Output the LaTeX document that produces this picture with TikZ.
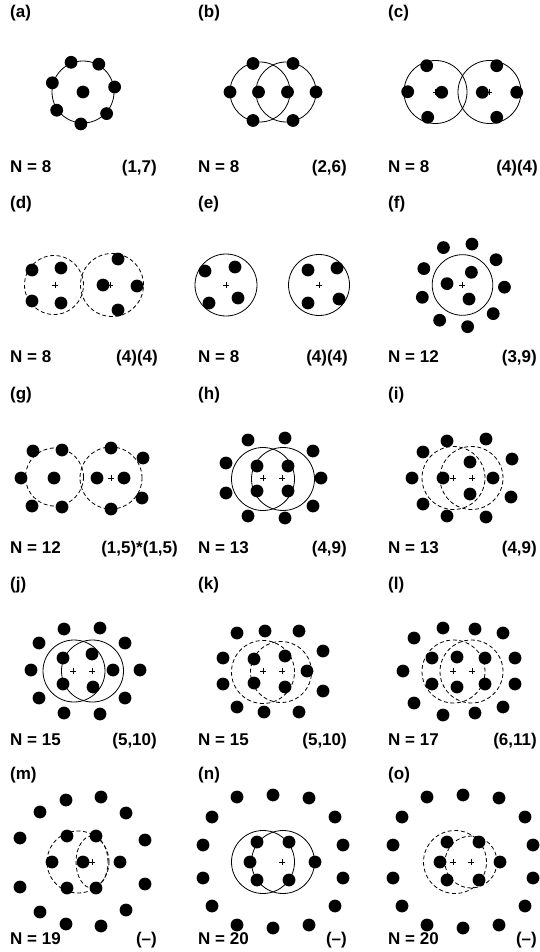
\documentclass[tikz,border=0pt]{standalone}
\usepackage{fontspec}
\setmainfont{Liberation Sans}
\newcommand\dts[1]{\foreach \p in {#1} \fill \p circle (6.4pt);}
\newcommand\pls[1]{\foreach \p in {#1} \draw[line width=0.45pt] \p +(-2.6,0) -- +(2.6,0) \p +(0,-2.6) -- +(0,2.6);}
\begin{document}
\begin{tikzpicture}[x=1pt,y=-1pt,
  ring/.style={draw=black, line width=0.8pt},
  dring/.style={draw=black, line width=0.8pt, dash pattern=on 4pt off 2.6pt},
  lab/.style={font=\bfseries\fontsize{17}{17}\selectfont, inner sep=0pt}]
\useasboundingbox (0,0) rectangle (539,952);
\fill[white] (0,0) rectangle (539,952);
% ---------- labels ----------
\foreach \nm/\x/\y in {a/10/18,b/198/18,c/388/18,d/10/208,e/198/208,f/388/208,g/10/399,h/198/399,i/388/399,j/10/589,k/198/589,l/388/589,m/10/779,n/198/779,o/388/779}
  \node[lab, anchor=base west] (t\nm) at (\x,\y) {(\nm)};
\foreach \nm/\x/\y/\t in {a/10/172.5/8,b/198/172.5/8,c/388/172.5/8,d/10/362.5/8,e/198/362.5/8,f/388/362.5/12,g/10/553/12,h/198/553/13,i/388/553/13,j/10/745/15,k/198/745/15,l/388/745/17,m/10/944/19,n/198/944/20,o/388/944/20}
  \node[lab, anchor=base west] (n\nm) at (\x,\y) {N = \t};
\foreach \nm/\x/\y/\t in {a/157/172.5/{(1,7)},b/347/172.5/{(2,6)},c/538/172.5/{(4)(4)},d/158/362.5/{(4)(4)},e/348/362.5/{(4)(4)},f/537/362.5/{(3,9)},h/347/553/{(4,9)},i/537/553/{(4,9)},j/157/745/{(5,10)},k/347/745/{(5,10)},l/537/745/{(6,11)},m/157/944/{(--)},n/347/944/{(--)},o/537/944/{(--)}}
  \node[lab, anchor=base east] (r\nm) at (\x,\y) {\t};
\node[lab, anchor=base east] (rg) at (178,553) {(1,5)*(1,5)};
% ---------- (a) ----------
\draw[ring] (83,92) circle (31pt);
\foreach \k in {0,...,6} \fill ({83+32*cos(9+51.43*\k)},{92-32*sin(9+51.43*\k)}) circle (6.4pt);
\dts{(83,92)}
% ---------- (b) ----------
\draw[ring] (260,92) circle (30pt);
\draw[ring] (286,92) circle (30pt);
\dts{(230,92),(258.5,92),(287.5,92),(316,92),(253,63.5),(293,63.5),(253,120.5),(293,120.5)}
% ---------- (c) ----------
\draw[ring] (435.5,92) circle (31.5pt);
\draw[ring] (489.5,92) circle (31.5pt);
\pls{(435.5,92),(489.5,92)}
\dts{(426.7,65.7),(407.7,91.7),(441.7,92.3),(427.7,117.3),(496.7,65.7),(482.3,92.3),(516.7,92.3),(496.7,117.3)}
% ---------- (d) ----------
\draw[dring] (54,285) circle (29.5pt);
\draw[dring] (112,285) circle (31.5pt);
\pls{(55,285),(110,285)}
\dts{(32,270),(61,268),(32,301),(61,303),(118,259),(103,285),(137,286),(118,310)}
% ---------- (e) ----------
\draw[ring] (226,285) circle (31pt);
\draw[ring] (319,285) circle (30.5pt);
\pls{(226,285),(319,285)}
\dts{(205,271),(235,267),(209,303),(238,298),(308,270),(337,268),(308,303),(339,299)}
% ---------- (f) ----------
\draw[ring] (462.5,285) circle (30.3pt);
\pls{(462,285)}
\foreach \k in {0,...,8} \fill ({462.5+42*cos(-3+40*\k)},{285-42*sin(-3+40*\k)}) circle (6.4pt);
\foreach \k in {0,1,2} \fill ({462.5+15.5*cos(55+120*\k)},{285-15.5*sin(55+120*\k)}) circle (6.4pt);
% ---------- (g) ----------
\draw[dring] (54.5,477) circle (29pt);
\draw[dring] (111,478) circle (31pt);
\pls{(111,478)}
\dts{(33,451),(62,450),(21,478),(54,478),(32,506),(62,507),(111,448),(143,458),(97,478),(124,478),(142,498),(111,509)}
% ---------- (h) ----------
\draw[ring] (263,479) circle (31.5pt);
\draw[ring] (283,479) circle (31.5pt);
\pls{(263,478),(282,478)}
\dts{(257,466),(288,466),(257,491),(288,491),(248,440),(285,438),(313,451),(226,463),(321,478),(226,493),(313,506),(248,516),(285,518)}
% ---------- (i) ----------
\draw[dring] (453.5,478) circle (31.5pt);
\draw[dring] (471.5,478) circle (31.5pt);
\pls{(453,478),(472,478)}
\dts{(443,478),(470,462),(493,478),(470,494),(447,441),(486,439),(423,452),(512,459),(412,478),(511,497),(423,504),(447,516),(486,517)}
% ---------- (j) ----------
\draw[ring] (74,671) circle (31pt);
\draw[ring] (92.5,671) circle (31pt);
\pls{(73,671),(92,671)}
\dts{(64,629),(100,628),(39,643),(125,643),(63,658),(92,654),(31,670),(113,670),(140,670),(63,684),(93,687),(39,698),(125,698),(64,713),(100,714)}
% ---------- (k) ----------
\draw[dring] (263,672) circle (31.5pt);
\draw[dring] (281,672) circle (30.5pt);
\pls{(263,671),(282,671)}
\dts{(237,633),(265,631),(299,631),(323,651),(223,658),(254,659),(285,656),(307,671),(223,684),(254,683),(285,687),(323,691),(237,707),(264,712),(299,712)}
% ---------- (l) ----------
\draw[dring] (453.5,671.5) circle (31.5pt);
\draw[dring] (471.5,671.5) circle (31.5pt);
\pls{(453,671),(472,671)}
\dts{(443,628),(475,629),(503,633),(414,638),(432,658),(457,657),(485,658),(515,658),(403,671),(432,684),(457,687),(485,684),(515,684),(414,703),(443,715),(475,713),(503,707)}
% ---------- (m) ----------
\draw[dring] (78,862) circle (31pt);
\draw[dring] (92,862) ellipse (16pt and 26pt);
\pls{(92,862)}
\dts{(66,800),(101,797),(40,812),(126,813),(20,838),(67,836),(96,836),(145,840),(52,862),(120,862),(20,887),(67,888),(96,888),(145,884),(40,912),(126,910),(66,924),(101,926),(83,862)}
% ---------- (n) ----------
\draw[ring] (263,862) circle (31.5pt);
\draw[ring] (283,862) circle (31.5pt);
\pls{(282,862)}
\dts{(237,797),(273,795),(309,798),(212,817),(335,817),(203,845),(343,845),(203,878),(343,878),(212,906),(335,906),(237,925),(273,928),(309,925),(257,842),(289,842),(257,880),(289,880),(250,862),(315,862)}
% ---------- (o) ----------
\draw[dring] (455,862) circle (31.5pt);
\draw[dring] (471,862) circle (26pt);
\pls{(453,862),(471,862)}
\dts{(427,797),(463,795),(499,798),(402,817),(525,817),(393,845),(533,845),(393,878),(533,878),(402,906),(525,906),(427,925),(463,928),(499,925),(447,842),(479,842),(447,880),(479,880),(440,862),(500,862)}
\end{tikzpicture}
\end{document}
